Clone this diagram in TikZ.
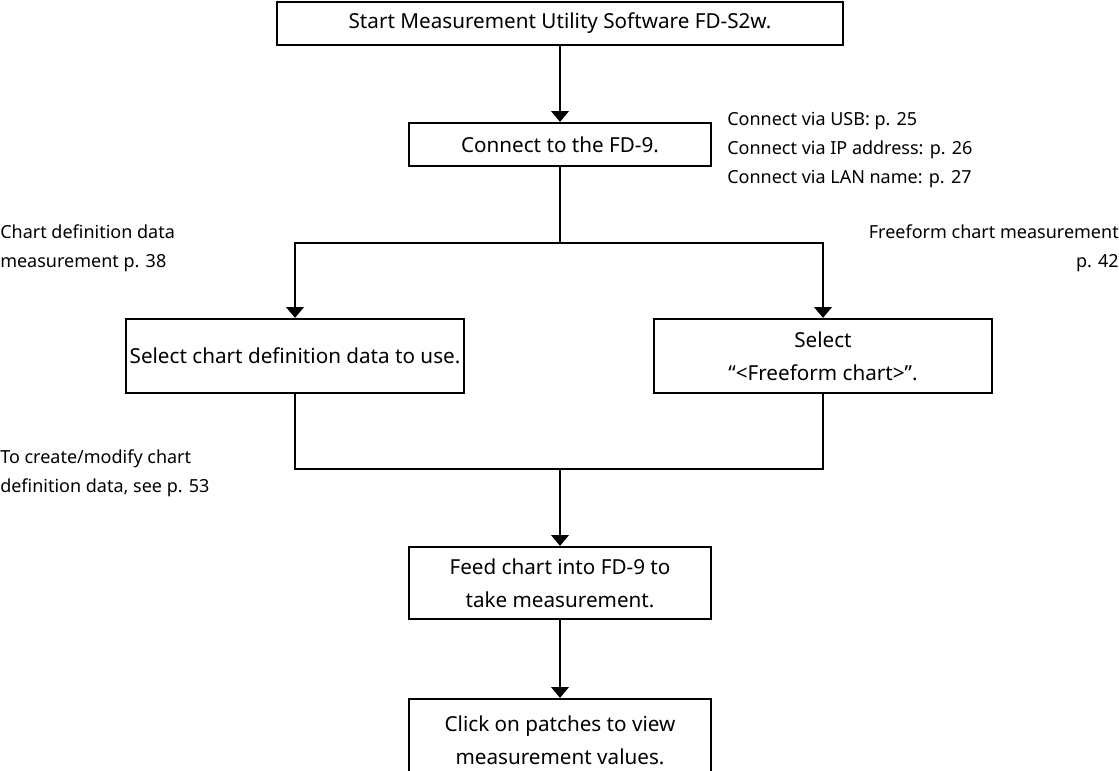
\documentclass[tikz,border=0pt]{standalone}
\usepackage{fontspec}
\setmainfont{Noto Sans}
\usetikzlibrary{arrows.meta}
\begin{document}
\begin{tikzpicture}[x=0.75pt,y=-0.75pt,
  box/.style={draw=black,line width=1.7pt,inner sep=0pt,align=center,font=\fontsize{15.5}{25}\selectfont},
  note/.style={inner sep=0pt,font=\fontsize{13.5}{21.5}\selectfont},
  line/.style={line width=1.6pt},
  arr/.style={line width=1.6pt,-{Triangle[width=13pt,length=8pt]}}]
\useasboundingbox (0,0) rectangle (1119,770);
\clip (0,0) rectangle (1119,770);
\node[box,minimum width=424.5pt,minimum height=32.25pt] (top) at (560,23.5) {Start Measurement Utility Software FD-S2w.};
\node[box,minimum width=226.5pt,minimum height=32.25pt] (conn) at (560,144.5) {Connect to the FD-9.};
\node[box,minimum width=253.5pt,minimum height=55.5pt] (left) at (295,356) {Select chart definition data to use.};
\node[box,minimum width=253.5pt,minimum height=55.5pt] (right) at (823,356) {Select\\“<Freeform chart>”.};
\node[box,minimum width=226.5pt,minimum height=54pt] (feed) at (560,583) {Feed chart into FD-9 to\\take measurement.};
\node[box,minimum width=226.5pt,minimum height=61.5pt] (click) at (560,740) {Click on patches to view\\measurement values.};
\node[note,anchor=west,align=left] (usb) at (727,150) {Connect via USB: p. 25\\Connect via IP address: p. 26\\Connect via LAN name: p. 27};
\node[note,anchor=west,align=left] (cdd) at (0,248) {Chart definition data\\measurement p. 38};
\node[note,anchor=east,align=right] (ffc) at (1119,248) {Freeform chart measurement\\p. 42};
\node[note,anchor=west,align=left] (mod) at (0,473) {To create/modify chart\\definition data, see p. 53};
\coordinate (j1) at (560,243);
\coordinate (j2) at (560,469);
\draw[arr] (top) -- (conn);
\draw[line] (conn.south) -- (j1);
\draw[arr] (j1) -| (left.north);
\draw[arr] (j1) -| (right.north);
\draw[line] (left.south) |- (j2);
\draw[line] (right.south) |- (j2);
\draw[arr] (j2) -- (feed);
\draw[arr] (feed) -- (click);
\end{tikzpicture}
\end{document}
